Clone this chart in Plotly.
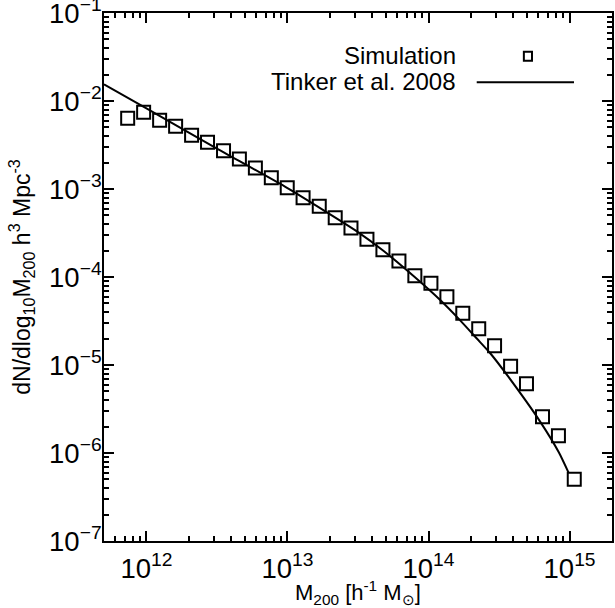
import math
import plotly.graph_objects as go

# Simulation halo mass function
sim_mass = [7.36e11, 9.55e11, 1.24e12, 1.61e12, 2.09e12, 2.71e12, 3.52e12, 4.56e12,
            5.92e12, 7.68e12, 9.96e12, 1.29e13, 1.68e13, 2.18e13, 2.82e13, 3.66e13,
            4.75e13, 6.17e13, 8.00e13, 1.04e14, 1.35e14, 1.75e14, 2.27e14, 2.94e14,
            3.82e14, 4.95e14, 6.43e14, 8.34e14, 1.08e15]
sim_dndlogm = [6.35e-3, 7.45e-3, 6.04e-3, 5.16e-3, 4.07e-3, 3.40e-3, 2.72e-3, 2.19e-3,
               1.73e-3, 1.34e-3, 1.035e-3, 7.96e-4, 6.36e-4, 4.72e-4, 3.60e-4, 2.68e-4,
               2.04e-4, 1.52e-4, 1.035e-4, 8.48e-5, 5.97e-5, 3.87e-5, 2.58e-5, 1.65e-5,
               9.66e-6, 6.12e-6, 2.58e-6, 1.57e-6, 5.02e-7]

# Tinker et al. 2008 curve (sampled from the figure)
tinker_mass = [5.0e11, 1.0e12, 3.16e12, 1.0e13, 3.16e13, 4.76e13, 7.98e13, 1.21e14,
               1.67e14, 2.20e14, 2.74e14, 3.68e14, 6.17e14, 8.39e14, 9.82e14]
tinker_dndlogm = [1.549e-2, 8.26e-3, 2.88e-3, 1.023e-3, 3.24e-4, 2.0e-4, 1.0e-4, 5.48e-5,
                  3.24e-5, 2.0e-5, 1.36e-5, 7.36e-6, 2.29e-6, 1.02e-6, 6.03e-7]

x_range = [5e11, 2e15]
y_range = [1e-7, 1e-1]

FONT = "Liberation Sans, Arial, Helvetica, sans-serif"
FS = 22

fig = go.Figure()

fig.add_trace(go.Scatter(
    x=tinker_mass, y=tinker_dndlogm,
    mode='lines', line=dict(color='black', width=2, shape='spline', smoothing=0.6),
    name='Tinker et al. 2008', showlegend=False
))

fig.add_trace(go.Scatter(
    x=sim_mass, y=sim_dndlogm,
    mode='markers',
    marker=dict(symbol='square-open', size=13, color='black', line=dict(width=2, color='black')),
    name='Simulation', showlegend=False
))

xr = [math.log10(x_range[0]), math.log10(x_range[1])]
yr = [math.log10(y_range[0]), math.log10(y_range[1])]

axis_common = dict(
    type='log', dtick=1, exponentformat='power', automargin=False,
    showline=True, linecolor='black', linewidth=2,
    ticks='inside', ticklen=10, tickwidth=1.5, tickcolor='black',
    minor=dict(ticks='inside', ticklen=5, tickwidth=1.5, tickcolor='black', showgrid=False),
    showgrid=False, zeroline=False, ticklabeloverflow='allow',
    tickfont=dict(family=FONT, size=FS, color='black'),
)

fig.update_layout(
    xaxis=dict(range=xr, ticklabelstandoff=3, **axis_common),
    yaxis=dict(range=yr, ticklabelstandoff=-4,
               title=dict(text='dN/dlog<sub>10</sub>M<sub>200</sub> h<sup>3</sup> Mpc<sup>-3</sup>',
                          font=dict(family=FONT, size=23, color='black'), standoff=12),
               **axis_common),
    # mirrored ticks on top and right
    xaxis2=dict(range=xr, overlaying='x', side='top', showticklabels=False, **axis_common),
    yaxis2=dict(range=yr, overlaying='y', side='right', showticklabels=False, **axis_common),
)

# invisible trace so the top/right axes are drawn
fig.add_trace(go.Scatter(x=[], y=[], xaxis='x2', yaxis='y2', showlegend=False))

# x axis title placed by hand, close under the tick labels
fig.add_annotation(text='M<sub>200</sub> [h<sup>-1</sup> M<sub>⊙</sub>]',
                   xref='paper', yref='paper', x=0.5, y=-0.098,
                   xanchor='center', yanchor='middle', showarrow=False,
                   font=dict(family=FONT, size=22, color='black'))

# hand-drawn legend: text on the left, sample on the right
fig.add_annotation(text='Simulation', xref='paper', yref='paper', x=0.697, y=0.9186,
                   xanchor='right', yanchor='middle', showarrow=False,
                   font=dict(family=FONT, size=24, color='black'))
fig.add_annotation(text='Tinker et al. 2008', xref='paper', yref='paper', x=0.697, y=0.870,
                   xanchor='right', yanchor='middle', showarrow=False,
                   font=dict(family=FONT, size=24, color='black'))
fig.add_shape(type='rect', xref='paper', yref='paper',
              x0=0.8265, x1=0.8425, y0=0.9095, y1=0.9265,
              line=dict(color='black', width=2))
fig.add_shape(type='line', xref='paper', yref='paper',
              x0=0.7337, x1=0.9252, y0=0.8687, y1=0.8687,
              line=dict(color='black', width=2))

fig.update_layout(
    width=615, height=608,
    margin=dict(l=104, r=3, t=13, b=67),
    plot_bgcolor='white', paper_bgcolor='white',
    font=dict(family=FONT, size=FS, color='black'),
    showlegend=False,
)

# drop the browser's default body margin so the figure fills the window
fig.write_html("out.html", config={'displayModeBar': False},
               post_script="document.body.style.margin='0';")
